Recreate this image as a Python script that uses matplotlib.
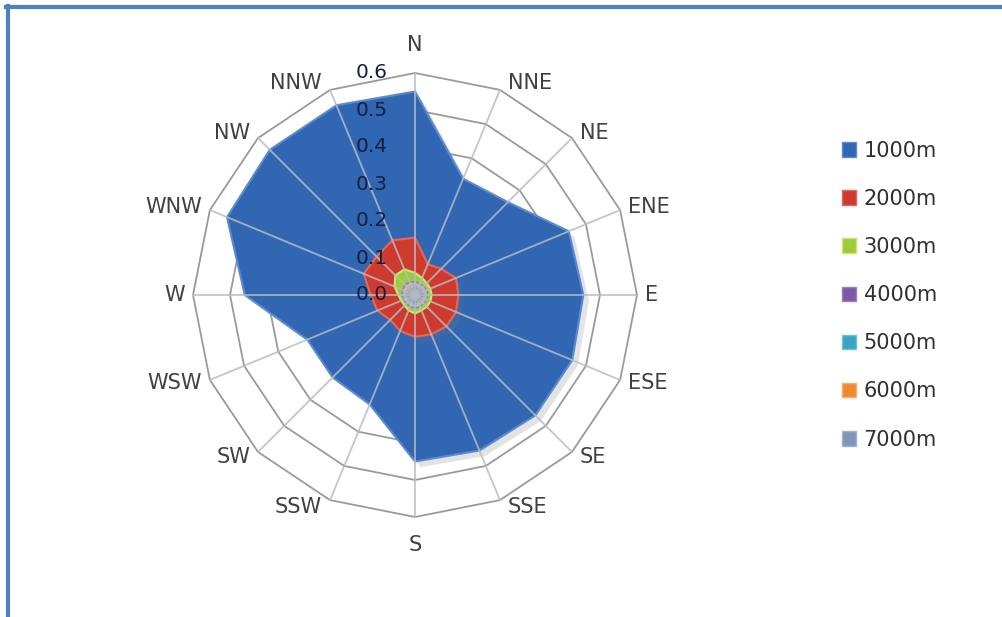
import numpy as np
import matplotlib
matplotlib.use("Agg")
import matplotlib.pyplot as plt
from matplotlib import patheffects
from matplotlib.patches import Patch
from matplotlib.lines import Line2D
from matplotlib.transforms import offset_copy

directions = ["N", "NNE", "NE", "ENE", "E", "ESE", "SE", "SSE",
              "S", "SSW", "SW", "WSW", "W", "WNW", "NW", "NNW"]
series_names = ["1000m", "2000m", "3000m", "4000m", "5000m", "6000m", "7000m"]

h1000 = [0.550, 0.340, 0.355, 0.450, 0.455, 0.460, 0.460, 0.455,
         0.450, 0.320, 0.315, 0.315, 0.460, 0.550, 0.555, 0.555]
h2000 = [0.155, 0.090, 0.100, 0.120, 0.117, 0.120, 0.120, 0.115,
         0.113, 0.105, 0.095, 0.110, 0.120, 0.150, 0.147, 0.160]
h3000 = [0.060, 0.050, 0.045, 0.045, 0.045, 0.045, 0.045, 0.045,
         0.050, 0.045, 0.040, 0.040, 0.045, 0.060, 0.075, 0.075]
h4000 = [0.035, 0.033, 0.032, 0.033, 0.034, 0.033, 0.032, 0.033,
         0.035, 0.033, 0.031, 0.032, 0.034, 0.036, 0.038, 0.037]
h5000 = [0.031, 0.029, 0.029, 0.030, 0.031, 0.030, 0.029, 0.030,
         0.031, 0.029, 0.028, 0.029, 0.030, 0.032, 0.033, 0.033]
h6000 = [0.029, 0.027, 0.027, 0.028, 0.029, 0.028, 0.027, 0.028,
         0.029, 0.027, 0.026, 0.027, 0.028, 0.030, 0.031, 0.031]
h7000 = [0.030, 0.022, 0.027, 0.022, 0.030, 0.022, 0.026, 0.022,
         0.030, 0.022, 0.027, 0.022, 0.030, 0.022, 0.027, 0.022]
r_ticks = [0.0, 0.1, 0.2, 0.3, 0.4, 0.5, 0.6]

series = [h1000, h2000, h3000, h4000, h5000, h6000, h7000]
colors = ["#3166B2", "#CF3A2E", "#9CCB3B", "#7B5BA5", "#3AA6C2", "#F08A2C", "#8096B8"]
edges = ["#5C8AD0", "#E06A5A", "#C8E86A", "#9A80C0", "#6CC4DA", "#F8B070", "#A0B2CE"]

plt.rcParams["font.family"] = ["DejaVu Sans"]

W, H = 1003, 617
fig = plt.figure(figsize=(W / 100, H / 100), dpi=100)
fig.patch.set_facecolor("white")

# chart frame: top and left edges
frame_kw = dict(transform=fig.transFigure, color="#4F81BD", lw=3, zorder=0)
fig.add_artist(Line2D([6 / W, 1.0], [(H - 7) / H] * 2, **frame_kw))
fig.add_artist(Line2D([8 / W] * 2, [0.0, (H - 5.5) / H], **frame_kw))

cx, cy, R = 415, 295, 222
ax = fig.add_axes([(cx - R) / W, (H - cy - R) / H, 2 * R / W, 2 * R / H],
                  projection="polar")
ax.set_theta_zero_location("N")
ax.set_theta_direction(-1)
ax.set_ylim(0, 0.6)
ax.grid(False)
ax.set_xticks([])
ax.set_yticks([])
ax.spines["polar"].set_visible(False)
ax.patch.set_visible(False)

n = len(directions)
theta = np.arange(n) * 2 * np.pi / n
theta_c = np.append(theta, theta[0])

# polygonal rings
for r in r_ticks[1:]:
    ax.plot(theta_c, [r] * (n + 1), color="#9A9A9A", lw=1.3, zorder=1, clip_on=False)

# filled series
shadow = [patheffects.SimplePatchShadow(offset=(4, -4), shadow_rgbFace="#777777", alpha=0.2),
          patheffects.Normal()]
for i, (vals, col, ec) in enumerate(zip(series, colors, edges)):
    v = np.append(vals, vals[0])
    ax.fill(theta_c, v, facecolor=col, edgecolor=ec, lw=1.5, zorder=2 + i,
            path_effects=shadow if i < 2 else None)

# spokes
for t in theta:
    ax.plot([t, t], [0, 0.6], color="#B8BCC4", lw=1.3, alpha=0.85, zorder=10,
            clip_on=False)

# radial value labels
tr = offset_copy(ax.transData, fig=fig, x=-27, y=0, units="dots")
for r in r_ticks:
    ax.text(0, r, f"{r:.1f}", transform=tr, ha="right", va="center",
            fontsize=14.5, color="#14203C", zorder=11)

# direction labels, anchored just outside each outer vertex
for t, lab in zip(theta, directions):
    s, c = np.sin(t), np.cos(t)
    if abs(s) < 1e-6:
        dx, dy, ha = 0, 28 * np.sign(c), "center"
    else:
        dx, dy, ha = 8 * np.sign(s), 7 * c, ("left" if s > 0 else "right")
    ltr = offset_copy(ax.transData, fig=fig, x=dx, y=dy, units="dots")
    ax.text(t, 0.6, lab, transform=ltr, ha=ha, va="center", fontsize=15,
            color="#404040", zorder=11)

handles = [Patch(facecolor=c, edgecolor=e, lw=1) for c, e in zip(colors, edges)]
fig.legend(handles, series_names, loc="upper left",
           bbox_to_anchor=(823 / W, (H - 122) / H), frameon=False,
           fontsize=15, handlelength=0.7, handleheight=0.7,
           handletextpad=0.35, labelspacing=1.35, labelcolor="#303030")

fig.savefig("out.png", dpi=100)
